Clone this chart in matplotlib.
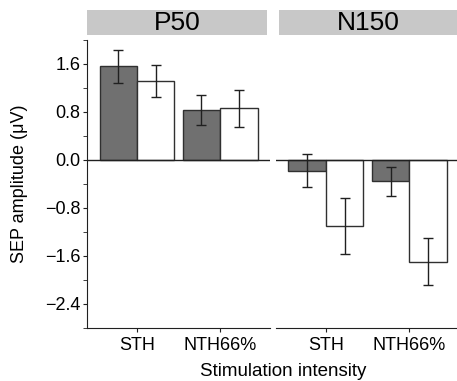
import matplotlib
matplotlib.use("Agg")
import matplotlib.pyplot as plt
from matplotlib.patches import Rectangle
from matplotlib.ticker import MultipleLocator

plt.rcParams['font.family'] = ['Liberation Sans', 'DejaVu Sans']

panels = ["P50", "N150"]
categories = ["STH", "NTH66%"]
dark_vals = {"P50": [1.56, 0.84], "N150": [-0.18, -0.36]}
dark_err = {"P50": [0.28, 0.25], "N150": [0.28, 0.24]}
white_vals = {"P50": [1.32, 0.86], "N150": [-1.10, -1.70]}
white_err = {"P50": [0.27, 0.31], "N150": [0.47, 0.39]}
yticks = [-2.4, -1.6, -0.8, 0.0, 0.8, 1.6]

W, H = 457, 381
fig = plt.figure(figsize=(W/100, H/100), dpi=100)
fig.patch.set_facecolor('white')

bottom = 1 - 327.7/H
top = 1 - 40/H
axes_px = [(87.3, 270), (276, 457)]
strip_px = [(87.3, 267), (279, 457)]

dark = '#707070'
edge = '#303030'
bw = 0.45
fs = 13
for i, p in enumerate(panels):
    x0, x1 = axes_px[i]
    ax = fig.add_axes([x0/W, bottom, (x1-x0)/W, top-bottom])
    xs = [1, 2]
    ax.bar([x - bw/2 for x in xs], dark_vals[p], width=bw, color=dark,
           edgecolor=edge, linewidth=1)
    ax.bar([x + bw/2 for x in xs], white_vals[p], width=bw, color='white',
           edgecolor=edge, linewidth=1)
    ax.errorbar([x - bw/2 for x in xs], dark_vals[p], yerr=dark_err[p], fmt='none',
                ecolor='#202020', elinewidth=1, capsize=3.5, capthick=1)
    ax.errorbar([x + bw/2 for x in xs], white_vals[p], yerr=white_err[p], fmt='none',
                ecolor='#202020', elinewidth=1, capsize=3.5, capthick=1)
    ax.axhline(0, color='#202020', lw=1)
    ax.set_xlim(0.4, 2.6 if i == 0 else 0.4 + (x1-x0)/83.3)
    ax.set_ylim(-2.8, 2.0)
    ax.set_xticks(xs)
    ax.set_xticklabels(categories, fontsize=fs)
    for s in ['top', 'right']:
        ax.spines[s].set_visible(False)
    ax.spines['bottom'].set_color('#202020')
    ax.tick_params(axis='x', direction='out', length=3, color='#202020', pad=4)
    if i == 0:
        ax.set_yticks(yticks)
        ax.set_yticklabels([f"{v:.1f}".replace('-', '\u2212') for v in yticks], fontsize=fs)
        ax.yaxis.set_minor_locator(MultipleLocator(0.4))
        ax.tick_params(axis='y', which='major', direction='out', length=3, color='#202020', pad=2)
        ax.tick_params(axis='y', which='minor', direction='out', length=3, color='#202020')
        ax.spines['left'].set_color('#202020')
    else:
        ax.spines['left'].set_visible(False)
        ax.set_yticks([])
    ax.set_facecolor('white')
    sx0, sx1 = strip_px[i]
    fig.patches.append(Rectangle((sx0/W, 1-35/H), (sx1-sx0)/W, 25/H,
                                 transform=fig.transFigure, facecolor='#c8c8c8',
                                 edgecolor='none'))
    fig.text((sx0+sx1)/2/W, 1-23.5/H, p, ha='center', va='center', fontsize=19)

fig.text(20/W, (bottom+top)/2, "SEP amplitude (\u03bcV)", rotation=90,
         ha='center', va='center', fontsize=fs)
fig.text(283.5/W, 1-371/H, "Stimulation intensity", ha='center', va='center', fontsize=13.5)

fig.savefig("out.png", dpi=100)
